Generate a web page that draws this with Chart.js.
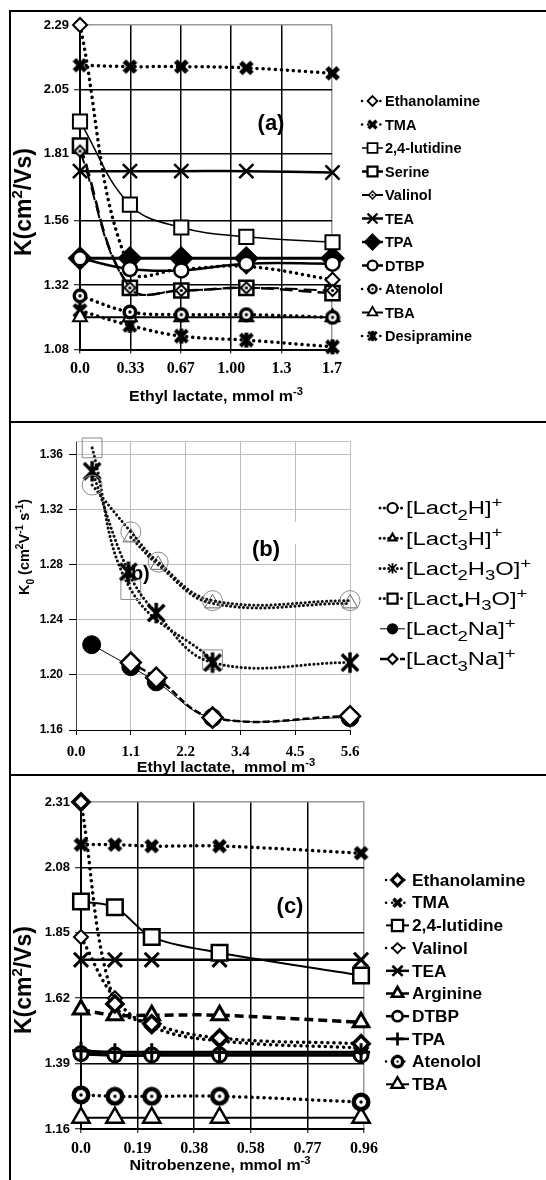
<!DOCTYPE html>
<html>
<head>
<meta charset="utf-8">
<title>Reduced mobility of ions with ethyl lactate and nitrobenzene</title>
<script src="https://cdn.jsdelivr.net/npm/chart.js@4.4.1/dist/chart.umd.min.js"></script>
<style>
  html, body { margin: 0; padding: 0; background: #fff; }
  #page { position: relative; width: 546px; height: 1180px; overflow: hidden; background: #fff; }
  #page canvas { position: absolute; left: 0; top: 0; }
  .rule { position: absolute; background: #000; }
</style>
</head>
<body>
<div id="page">
  <canvas id="chartA" width="546" height="1180"></canvas>
  <canvas id="chartB" width="546" height="1180"></canvas>
  <canvas id="chartC" width="546" height="1180"></canvas>
  <div class="rule" style="left:9px;top:10px;width:2px;height:1170px"></div>
  <div class="rule" style="left:9px;top:10px;width:537px;height:2px"></div>
  <div class="rule" style="left:9px;top:421px;width:537px;height:2px"></div>
  <div class="rule" style="left:9px;top:774px;width:537px;height:2px"></div>
</div>
<script>
// ---------- Panel (a): K0 vs ethyl lactate concentration ----------
const xTicksA = ['0.0', '0.33', '0.67', '1.00', '1.3', '1.7'];
const yTicksA = ['1.08', '1.32', '1.56', '1.81', '2.05', '2.29'];
const concA = [0, 0.33, 0.67, 1.1, 1.67];
const namesA = ['Ethanolamine', 'TMA', '2,4-lutidine', 'Serine', 'Valinol', 'TEA',
                'TPA', 'DTBP', 'Atenolol', 'TBA', 'Desipramine'];
const ethanolamineA = [2.29, 1.38, 1.38, 1.39, 1.34];
const tmaA          = [2.14, 2.135, 2.135, 2.13, 2.11];
const lutidineA     = [1.93, 1.62, 1.535, 1.50, 1.48];
const serineA       = [1.84, 1.31, 1.30, 1.31, 1.29];
const valinolA      = [1.82, 1.31, 1.30, 1.31, 1.30];
const teaA          = [1.745, 1.745, 1.745, 1.745, 1.74];
const tpaA          = [1.42, 1.42, 1.42, 1.42, 1.42];
const dtbpA         = [1.42, 1.38, 1.375, 1.40, 1.40];
const atenololA     = [1.28, 1.22, 1.21, 1.21, 1.20];
const tbaA          = [1.20, 1.20, 1.20, 1.20, 1.20];
const desipramineA  = [1.225, 1.17, 1.13, 1.115, 1.09];

// ---------- Panel (b): ethyl lactate cluster ions ----------
const xTicksB = ['0.0', '1.1', '2.2', '3.4', '4.5', '5.6'];
const yTicksB = ['1.16', '1.20', '1.24', '1.28', '1.32', '1.36'];
const namesB = ['[Lact_{2}H]^{+}', '[Lact_{3}H]^{+}', '[Lact_{2}H_{3}O]^{+}',
                '[Lact_{\u2022}H_{3}O]^{+}', '[Lact_{2}Na]^{+}', '[Lact_{3}Na]^{+}'];
const concLact2H   = [0.33, 1.12, 1.68, 2.79, 5.6];
const kLact2H      = [1.338, 1.304, 1.282, 1.254, 1.254];
const concLact3H   = [1.12, 1.68, 2.79, 5.6];
const kLact3H      = [1.300, 1.280, 1.252, 1.252];
const concLact2H3O = [0.33, 1.07, 1.64, 2.79, 5.6];
const kLact2H3O    = [1.348, 1.275, 1.245, 1.209, 1.209];
const concLactH3O  = [0.33, 1.12, 2.79];
const kLactH3O     = [1.365, 1.262, 1.211];
const concLact2Na  = [0.32, 1.12, 1.64, 2.79, 5.6];
const kLact2Na     = [1.222, 1.206, 1.195, 1.169, 1.169];
const concLact3Na  = [1.12, 1.64, 2.79, 5.6];
const kLact3Na     = [1.209, 1.198, 1.169, 1.170];

// ---------- Panel (c): K0 vs nitrobenzene concentration ----------
const xTicksC = ['0.0', '0.19', '0.38', '0.58', '0.77', '0.96'];
const yTicksC = ['1.16', '1.39', '1.62', '1.85', '2.08', '2.31'];
const concC = [0, 0.115, 0.24, 0.47, 0.95];
const namesC = ['Ethanolamine', 'TMA', '2,4-lutidine', 'Valinol', 'TEA',
                'Arginine', 'DTBP', 'TPA', 'Atenolol', 'TBA'];
const ethanolamineC = [2.31, 1.60, 1.53, 1.48, 1.46];
const tmaC          = [2.16, 2.16, 2.155, 2.155, 2.13];
const lutidineC     = [1.96, 1.94, 1.835, 1.78, 1.70];
const valinolC      = [1.835, 1.62, 1.52, 1.47, 1.445];
const teaC          = [1.755, 1.755, 1.755, 1.755, 1.755];
const arginineC     = [1.58, 1.56, 1.56, 1.56, 1.535];
const dtbpC         = [1.425, 1.42, 1.42, 1.42, 1.42];
const tpaC          = [1.435, 1.43, 1.43, 1.43, 1.43];
const atenololC     = [1.28, 1.275, 1.275, 1.275, 1.255];
const tbaC          = [1.20, 1.20, 1.20, 1.20, 1.20];

// ---------- drawing helpers ----------
const SANS = '"Liberation Sans", Arial, Helvetica, sans-serif';
const SERIF = '"Liberation Serif", "Times New Roman", Times, serif';
Chart.defaults.font.family = SANS;
Chart.defaults.color = '#000';

function markerCanvas(size, paint) {
  const c = document.createElement('canvas');
  c.width = size; c.height = size;
  const g = c.getContext('2d');
  g.translate(size / 2, size / 2);
  g.strokeStyle = '#000'; g.fillStyle = '#000';
  paint(g, size / 2);
  return c;
}
function boldCross(size, lw, withBar) {
  return markerCanvas(size, (g, h) => {
    const r = h - lw / 2;
    const d = r * 0.8;
    g.lineWidth = lw;
    g.beginPath();
    g.moveTo(-d, -d); g.lineTo(d, d); g.moveTo(d, -d); g.lineTo(-d, d);
    if (withBar) { g.moveTo(0, -r); g.lineTo(0, r); }
    g.stroke();
  });
}
function ringDot(size, lw) {
  return markerCanvas(size, (g, h) => {
    g.lineWidth = lw;
    g.beginPath(); g.arc(0, 0, h - lw / 2 - 0.5, 0, Math.PI * 2);
    g.fillStyle = '#fff'; g.fill(); g.stroke();
    g.fillStyle = '#000';
    g.beginPath(); g.arc(0, 0, 1.7, 0, Math.PI * 2); g.fill();
  });
}
function diamondDot(size, lw) {
  return markerCanvas(size, (g, h) => {
    const r = h - lw;
    g.lineWidth = lw;
    g.beginPath(); g.moveTo(0, -r); g.lineTo(r, 0); g.lineTo(0, r); g.lineTo(-r, 0); g.closePath();
    g.fillStyle = '#fff'; g.fill(); g.stroke();
    g.fillStyle = '#000';
    g.beginPath(); g.arc(0, 0, 1.6, 0, Math.PI * 2); g.fill();
  });
}

// text with _{sub} and ^{sup} parts
function drawRich(ctx, str, x, y, f) {
  const size = f.size, small = size * (f.subScale || 0.7);
  const parts = str.split(/(_\{[^}]*\}|\^\{[^}]*\})/).filter(Boolean).map(p => {
    if (p.startsWith('_{')) return { t: p.slice(2, -1), s: small, dy: size * 0.3 };
    if (p.startsWith('^{')) return { t: p.slice(2, -1), s: small, dy: -size * 0.4 };
    return { t: p, s: size, dy: 0 };
  });
  const fontOf = s => `${f.weight || 'normal'} ${s}px ${f.family || SANS}`;
  let w = 0;
  parts.forEach(p => { ctx.font = fontOf(p.s); p.w = ctx.measureText(p.t).width; w += p.w; });
  const sx = f.stretch || 1;
  const x0 = f.align === 'center' ? x - w * sx / 2 : (f.align === 'right' ? x - w * sx : x);
  ctx.save();
  ctx.translate(x0, y + size * 0.36);
  ctx.scale(sx, 1);
  ctx.fillStyle = f.color || '#000';
  ctx.textBaseline = 'alphabetic';
  ctx.textAlign = 'left';
  let cx = 0;
  parts.forEach(p => { ctx.font = fontOf(p.s); ctx.fillText(p.t, cx, p.dy); cx += p.w; });
  ctx.restore();
}

function drawMarker(ctx, x, y, style, r, fill, stroke, bw) {
  ctx.save();
  if (style instanceof HTMLCanvasElement) {
    ctx.drawImage(style, x - r, y - r, 2 * r, 2 * r);
    ctx.restore();
    return;
  }
  ctx.fillStyle = fill; ctx.strokeStyle = stroke; ctx.lineWidth = bw;
  ctx.beginPath();
  let closed = true;
  if (style === 'circle') {
    ctx.arc(x, y, r, 0, Math.PI * 2);
  } else if (style === 'rect') {
    const s = r * Math.SQRT1_2; ctx.rect(x - s, y - s, 2 * s, 2 * s);
  } else if (style === 'rectRot') {
    ctx.moveTo(x, y - r); ctx.lineTo(x + r, y); ctx.lineTo(x, y + r); ctx.lineTo(x - r, y); ctx.closePath();
  } else if (style === 'triangle') {
    ctx.moveTo(x, y - r); ctx.lineTo(x + 0.866 * r, y + 0.5 * r); ctx.lineTo(x - 0.866 * r, y + 0.5 * r); ctx.closePath();
  } else if (style === 'crossRot') {
    const d = r * Math.SQRT1_2;
    ctx.moveTo(x - d, y - d); ctx.lineTo(x + d, y + d); ctx.moveTo(x + d, y - d); ctx.lineTo(x - d, y + d);
    closed = false;
  } else if (style === 'cross') {
    ctx.moveTo(x, y - r); ctx.lineTo(x, y + r); ctx.moveTo(x - r, y); ctx.lineTo(x + r, y);
    closed = false;
  }
  if (closed && fill) ctx.fill();
  ctx.stroke();
  ctx.restore();
}

function drawLegend(chart, L) {
  const ctx = chart.ctx;
  chart.data.datasets.forEach((ds, i) => {
    const y = L.y0 + i * L.dy;
    ctx.save();
    ctx.strokeStyle = ds.borderColor;
    ctx.lineWidth = Math.min(ds.borderWidth, L.maxLine || 99);
    ctx.setLineDash(ds.legendDash || ds.borderDash || []);
    ctx.lineCap = ds.borderCapStyle || 'butt';
    ctx.beginPath(); ctx.moveTo(L.x, y); ctx.lineTo(L.x + L.w, y); ctx.stroke();
    ctx.restore();
    const stroke = L.markerColor || ds.pointBorderColor;
    const bw = L.markerWidth || ds.pointBorderWidth * (L.kb || 1);
    const fill = (L.markerColor && ds.pointBackgroundColor !== '#000') ? '#fff' : ds.pointBackgroundColor;
    drawMarker(ctx, L.x + L.w / 2, y, ds.pointStyle, ds.pointRadius * L.k, fill, stroke, bw);
    drawRich(ctx, ds.label, L.textX, y, L.font);
  });
}

function drawTextItem(ctx, t) {
  if (t.box) {
    ctx.save(); ctx.fillStyle = '#fff';
    ctx.fillRect(t.box[0], t.box[1], t.box[2], t.box[3]); ctx.restore();
  }
  ctx.save();
  ctx.translate(t.x, t.y);
  if (t.rotate) ctx.rotate(t.rotate);
  drawRich(ctx, t.text, 0, 0, t.font);
  ctx.restore();
}

const decoPlugin = {
  id: 'deco',
  beforeDatasetsDraw(chart, args, o) {
    const ctx = chart.ctx, a = chart.chartArea;
    if (o.frame) {
      ctx.save(); ctx.strokeStyle = o.frame; ctx.lineWidth = 1;
      ctx.beginPath(); ctx.moveTo(a.left, a.top + 0.5); ctx.lineTo(a.right + 0.5, a.top + 0.5);
      ctx.lineTo(a.right + 0.5, a.bottom); ctx.stroke(); ctx.restore();
    }
    (o.under || []).forEach(t => drawTextItem(ctx, t));
  },
  afterDraw(chart, args, o) {
    if (o.legend) drawLegend(chart, o.legend);
    (o.texts || []).forEach(t => drawTextItem(chart.ctx, t));
  }
};
Chart.register(decoPlugin);

function pts(xs, ys) { return xs.map((x, i) => ({ x, y: ys[i] })); }

const DOT = { borderDash: [0.1, 6], borderCapStyle: 'round', borderWidth: 3.5 };
const WHITE = '#fff';
function ds(label, xs, ys, line, marker) {
  return Object.assign({
    label, data: pts(xs, ys), clip: false, fill: false, showLine: true,
    borderColor: '#000', pointBorderColor: '#000', pointBackgroundColor: WHITE,
    pointBorderWidth: 2, pointRadius: 7, pointHoverRadius: 7, borderWidth: 2
  }, line, marker);
}

function linearAxis(ticks, min, max, even, o) {
  const n = ticks.length;
  return {
    type: 'linear', min, max,
    afterBuildTicks: s => {
      s.ticks = ticks.map((t, i) => ({ value: even ? min + i * (max - min) / (n - 1) : parseFloat(t) }));
    },
    afterFit: s => { if (o.width) s.width = o.width; if (o.height) s.height = o.height; },
    ticks: {
      autoSkip: false, maxRotation: 0, minRotation: 0, padding: o.padding, color: '#000',
      font: o.font, callback: (v, i) => ticks[i]
    },
    grid: {
      color: c => (o.edgeColor && c.index === n - 1) ? o.edgeColor : o.gridColor,
      lineWidth: o.gridWidth, tickLength: o.tickLength, tickColor: '#000', tickWidth: o.tickWidth || 1
    },
    border: { display: true, color: o.axisColor || '#000', width: o.axisWidth || 2 }
  };
}

function makeChart(id, datasets, x, y, padding, deco) {
  return new Chart(document.getElementById(id), {
    type: 'line',
    data: { datasets },
    options: {
      responsive: false, animation: false, devicePixelRatio: 1, events: [],
      layout: { padding },
      elements: { line: { tension: 0.4 } },
      plugins: { legend: { display: false }, tooltip: { enabled: false }, deco },
      scales: { x, y }
    }
  });
}

// ---------- marker images ----------
const mkTMA = boldCross(19, 5, false);
const mkDesip = boldCross(19, 4, true);
const mkAten = ringDot(16, 3.5);
const mkAtenC = ringDot(20, 4.5);
const mkValA = diamondDot(15, 2);
const mkStar = boldCross(24, 3.5, true);

const tickFontY = { family: SANS, weight: 'bold', size: 13 };
const tickFontX = { family: SERIF, weight: 'bold', size: 16 };
const titleFontX = { size: 14.5, weight: 'bold', align: 'center', stretch: 1.1 };
const kTitleFont = { size: 23, weight: 'bold', align: 'center', subScale: 0.65 };

// ---------- chart (a) ----------
makeChart('chartA', [
  ds(namesA[0], concA, ethanolamineA, DOT, { pointStyle: 'rectRot', pointRadius: 7 }),
  ds(namesA[1], concA, tmaA, DOT, { pointStyle: mkTMA, pointRadius: 9.5 }),
  ds(namesA[2], concA, lutidineA, { borderWidth: 1.5 }, { pointStyle: 'rect', pointRadius: 10 }),
  ds(namesA[3], concA, serineA, { borderDash: [13, 6], borderWidth: 2.5, legendDash: [] }, { pointStyle: 'rect', pointRadius: 10, pointBorderWidth: 2.5 }),
  ds(namesA[4], concA, valinolA, { borderDash: [13, 6], borderWidth: 2, legendDash: [], order: -2 }, { pointStyle: mkValA, pointRadius: 7.5 }),
  ds(namesA[5], concA, teaA, { borderWidth: 2.5 }, { pointStyle: 'crossRot', pointRadius: 10, pointBorderWidth: 2.5 }),
  ds(namesA[6], concA, tpaA, { borderWidth: 3 }, { pointStyle: 'rectRot', pointRadius: 11, pointBackgroundColor: '#000' }),
  ds(namesA[7], concA, dtbpA, { borderWidth: 2.5, order: -1 }, { pointStyle: 'circle', pointRadius: 7, pointBorderWidth: 2.5 }),
  ds(namesA[8], concA, atenololA, DOT, { pointStyle: mkAten, pointRadius: 8 }),
  ds(namesA[9], concA, tbaA, { borderWidth: 2 }, { pointStyle: 'triangle', pointRadius: 8 }),
  ds(namesA[10], concA, desipramineA, DOT, { pointStyle: mkDesip, pointRadius: 9.5 })
],
  linearAxis(xTicksA, 0, 5 / 3, true, { height: 30, padding: 6, font: tickFontX, gridColor: '#000', edgeColor: '#999', gridWidth: 1.5, tickLength: 4 }),
  linearAxis(yTicksA, 1.08, 2.29, false, { width: 50, padding: 5, font: tickFontY, gridColor: '#000', edgeColor: '#999', gridWidth: 1.5, tickLength: 6 }),
  { left: 30, right: 214, top: 25, bottom: 800.5 },
  {
    legend: { x: 362, w: 21, textX: 385, y0: 101, dy: 23.5, k: 0.7, kb: 0.9, maxLine: 2.5, font: { size: 14.5, weight: 'bold' } },
    texts: [
      { text: '(a)', x: 271, y: 122, font: { size: 22, weight: 'bold', align: 'center' } },
      { text: 'Ethyl lactate, mmol m^{-3}', x: 216, y: 396, font: titleFontX },
      { text: 'K(cm^{2}/Vs)', x: 23, y: 202, rotate: -Math.PI / 2, font: kTitleFont }
    ]
  });

// ---------- chart (b) ----------
const GREY = '#8a8a8a';
const DOT_B = { borderDash: [0.1, 4.2], borderCapStyle: 'round', borderWidth: 3, borderColor: '#111' };
makeChart('chartB', [
  ds(namesB[0], concLact2H, kLact2H, DOT_B, { pointStyle: 'circle', pointRadius: 10, pointBorderWidth: 1, pointBorderColor: GREY, pointBackgroundColor: 'rgba(255,255,255,0)' }),
  ds(namesB[1], concLact3H, kLact3H, DOT_B, { pointStyle: 'triangle', pointRadius: 9, pointBorderWidth: 1, pointBorderColor: '#666', pointBackgroundColor: 'rgba(255,255,255,0)' }),
  ds(namesB[2], concLact2H3O, kLact2H3O, DOT_B, { pointStyle: mkStar, pointRadius: 12 }),
  ds(namesB[3], concLactH3O, kLactH3O, DOT_B, { pointStyle: 'rect', pointRadius: 14, pointBorderWidth: 1, pointBorderColor: GREY, pointBackgroundColor: 'rgba(255,255,255,0)' }),
  ds(namesB[4], concLact2Na, kLact2Na, { borderWidth: 1 }, { pointStyle: 'circle', pointRadius: 9, pointBackgroundColor: '#000', pointBorderWidth: 1 }),
  ds(namesB[5], concLact3Na, kLact3Na, { borderDash: [7, 3], borderWidth: 2.5, order: -1 }, { pointStyle: 'rectRot', pointRadius: 10, pointBorderWidth: 2.5 })
],
  linearAxis(xTicksB, 0, 5.6, true, { height: 30, padding: 8, font: { family: SERIF, weight: 'bold', size: 15 }, gridColor: '#bdbdbd', gridWidth: 1, tickLength: 5, axisWidth: 1 }),
  linearAxis(yTicksB, 1.16, 1.37, false, { width: 50, padding: 6, font: { family: SANS, weight: 'bold', size: 12 }, gridColor: '#bdbdbd', gridWidth: 1, tickLength: 7, axisWidth: 1, axisColor: '#444' }),
  { left: 26, right: 196, top: 441, bottom: 420 },
  {
    frame: '#c4c4c4',
    under: [
      { text: '(b)', x: 137, y: 573, font: { size: 20, weight: 'bold', align: 'center' } }
    ],
    legend: { x: 380, w: 25, textX: 406, y0: 508, dy: 30.2, k: 0.5, markerColor: '#000', markerWidth: 2.2, maxLine: 3, font: { size: 18, weight: 'normal', stretch: 1.32, subScale: 0.78 } },
    texts: [
      { text: '(b)', x: 266, y: 548, box: [248, 522, 60, 22], font: { size: 22, weight: 'bold', align: 'center' } },
      { text: 'Ethyl lactate,  mmol m^{-3}', x: 226, y: 767, font: titleFontX },
      { text: 'K_{0} (cm^{2}V^{-1} s^{-1})', x: 24, y: 547, rotate: -Math.PI / 2, font: { size: 14.5, weight: 'bold', align: 'center' } }
    ]
  });

// ---------- chart (c) ----------
makeChart('chartC', [
  ds(namesC[0], concC, ethanolamineC, DOT, { pointStyle: 'rectRot', pointRadius: 8, pointBorderWidth: 3.5 }),
  ds(namesC[1], concC, tmaC, DOT, { pointStyle: mkTMA, pointRadius: 9.5 }),
  ds(namesC[2], concC, lutidineC, { borderWidth: 2, tension: 0.3 }, { pointStyle: 'rect', pointRadius: 11, pointBorderWidth: 2.5 }),
  ds(namesC[3], concC, valinolC, DOT, { pointStyle: 'rectRot', pointRadius: 7, pointBorderWidth: 2 }),
  ds(namesC[4], concC, teaC, { borderWidth: 2.5 }, { pointStyle: 'crossRot', pointRadius: 10, pointBorderWidth: 3 }),
  ds(namesC[5], concC, arginineC, { borderDash: [9, 5], borderWidth: 3.5 }, { pointStyle: 'triangle', pointRadius: 9, pointBorderWidth: 3 }),
  ds(namesC[6], concC, dtbpC, { borderWidth: 3.5 }, { pointStyle: 'circle', pointRadius: 7, pointBorderWidth: 3 }),
  ds(namesC[7], concC, tpaC, { borderWidth: 3, order: -1 }, { pointStyle: 'cross', pointRadius: 9, pointBorderWidth: 3 }),
  ds(namesC[8], concC, atenololC, DOT, { pointStyle: mkAtenC, pointRadius: 10 }),
  ds(namesC[9], concC, tbaC, { borderWidth: 2 }, { pointStyle: 'triangle', pointRadius: 10, pointBorderWidth: 2.5 })
],
  linearAxis(xTicksC, 0, 0.96, true, { height: 30, padding: 6, font: tickFontX, gridColor: '#000', edgeColor: '#999', gridWidth: 1.5, tickLength: 4 }),
  linearAxis(yTicksC, 1.16, 2.31, false, { width: 50, padding: 5, font: tickFontY, gridColor: '#000', edgeColor: '#999', gridWidth: 1.5, tickLength: 6 }),
  { left: 31, right: 182, top: 802, bottom: 21 },
  {
    legend: { x: 386, w: 23, textX: 412, y0: 880, dy: 22.7, k: 0.72, kb: 0.9, maxLine: 2.5, font: { size: 16, weight: 'bold', stretch: 1.08 } },
    texts: [
      { text: '(c)', x: 290, y: 905, font: { size: 22, weight: 'bold', align: 'center' } },
      { text: 'Nitrobenzene, mmol m^{-3}', x: 220, y: 1165, font: titleFontX },
      { text: 'K(cm^{2}/Vs)', x: 23, y: 980, rotate: -Math.PI / 2, font: kTitleFont }
    ]
  });
</script>
</body>
</html>
